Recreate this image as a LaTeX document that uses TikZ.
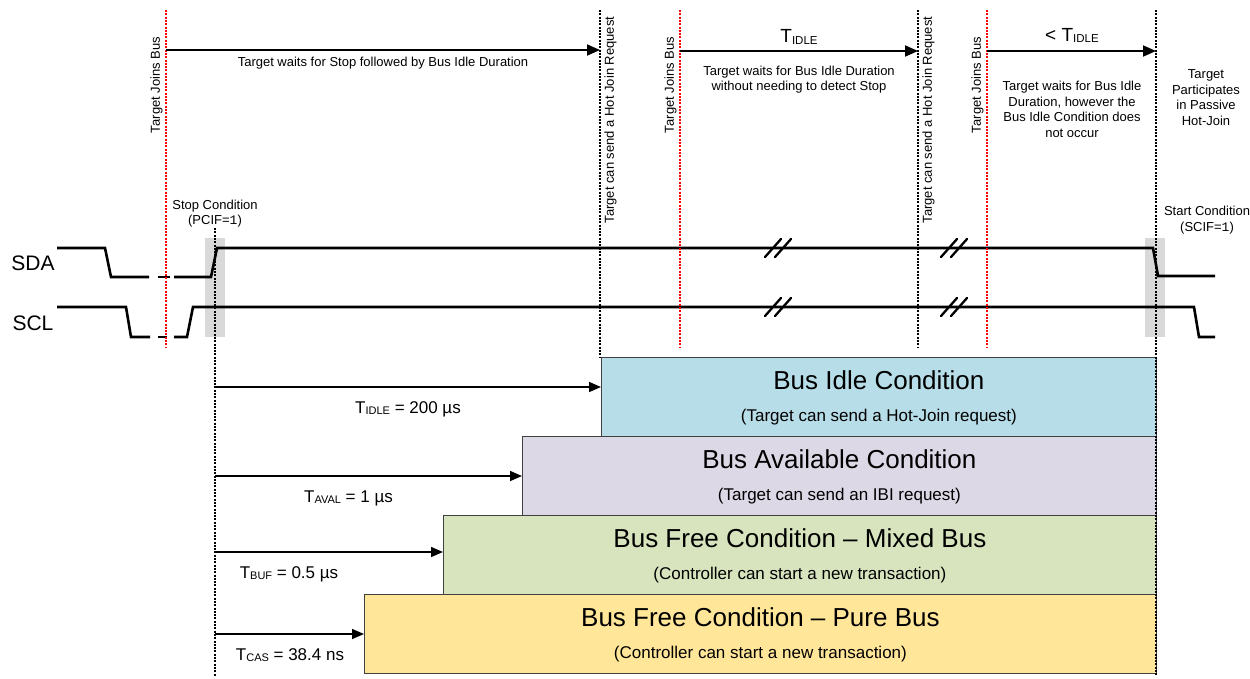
\documentclass[tikz,border=0pt]{standalone}
\usepackage{fontspec}
\setmainfont{Liberation Sans}
\newfontfamily\monofont{Liberation Mono}
\usetikzlibrary{arrows.meta}
\definecolor{idleblue}{HTML}{B7DEE8}
\definecolor{availlilac}{HTML}{DDD8E6}
\definecolor{mixedgreen}{HTML}{D7E4BD}
\definecolor{pureyellow}{HTML}{FFE699}
\definecolor{shadegray}{HTML}{D9D9D9}
\definecolor{boxedge}{HTML}{404040}
\newcommand\lowsub[2][11]{{\fontsize{#1}{#1}\selectfont\raisebox{-1.8pt}{#2}}}
\begin{document}
\begin{tikzpicture}[x=1pt,y=-1pt,
  sig/.style={line width=2.6pt},
  brk/.style={line width=2.3pt, line cap=round},
  redline/.style={red, line width=1.3pt, dash pattern=on 2pt off 1.3pt},
  blackline/.style={black, line width=1.1pt, dash pattern=on 2pt off 1.3pt},
  toparr/.style={line width=1.8pt, -{Triangle[length=13pt,width=11pt]}},
  botarr/.style={line width=1.5pt, -{Triangle[length=12pt,width=10pt]}},
  cbox/.style={draw=boxedge, line width=0.8pt, inner sep=0, anchor=north west, minimum height=79pt},
  shadebox/.style={fill=shadegray, inner sep=0, minimum width=20pt, minimum height=99pt},
  small/.style={font=\fontsize{13}{15.5}\selectfont, align=center, inner sep=0},
  vlabel/.style={font=\fontsize{13}{15}\selectfont, rotate=90, inner sep=0},
  title/.style={font=\fontsize{26}{26}\selectfont, inner sep=0, anchor=base},
  subt/.style={font=\fontsize{17}{17}\selectfont, inner sep=0, anchor=base},
  tlabel/.style={font=\fontsize{17}{17}\selectfont, inner sep=0, anchor=base},
  siglabel/.style={font=\fontsize{21}{21}\selectfont, inner sep=0, anchor=base}]
\useasboundingbox (0,0) rectangle (1250,678);

% condition boxes
\node[cbox, fill=idleblue, minimum width=555pt] (idle) at (601,357) {};
\node[cbox, fill=availlilac, minimum width=634pt] (avail) at (522,436) {};
\node[cbox, fill=mixedgreen, minimum width=713pt] (mixed) at (443,515) {};
\node[cbox, fill=pureyellow, minimum width=792pt] (pure) at (364,594) {};
\node[title] (idlet) at ([yshift=-32pt]idle.north) {Bus Idle Condition};
\node[subt] (idles) at ([yshift=-64pt]idle.north) {(Target can send a Hot-Join request)};
\node[title] (availt) at ([yshift=-32pt]avail.north) {Bus Available Condition};
\node[subt] (avails) at ([yshift=-64pt]avail.north) {(Target can send an IBI request)};
\node[title] (mixedt) at ([yshift=-32pt]mixed.north) {Bus Free Condition – Mixed Bus};
\node[subt] (mixeds) at ([yshift=-64pt]mixed.north) {(Controller can start a new transaction)};
\node[title] (puret) at ([yshift=-32pt]pure.north) {Bus Free Condition – Pure Bus};
\node[subt] (pures) at ([yshift=-64pt]pure.north) {(Controller can start a new transaction)};

% shaded condition windows
\node[shadebox] (stopshade) at (215,287.5) {};
\node[shadebox] (startshade) at (1155,287.5) {};

% signals
\node[siglabel] (sda) at (33,270) {SDA};
\node[siglabel] (scl) at (33,330) {SCL};
\coordinate (sdaA0) at (57,248); \coordinate (sdaA1) at (105,248);
\coordinate (sdaA2) at (111,277); \coordinate (sdaA3) at (149,277);
\coordinate (sdaB0) at (158,277); \coordinate (sdaB1) at (170,277);
\coordinate (sdaC0) at (174,277); \coordinate (sdaC1) at (211,277);
\coordinate (sdaC2) at (217,248); \coordinate (sdaC3) at (1153,248);
\coordinate (sdaC4) at (1158,276); \coordinate (sdaC5) at (1215,276);
\draw[sig] (sdaA0) -- (sdaA1) -- (sdaA2) -- (sdaA3);
\draw[sig] (sdaB0) -- (sdaB1);
\draw[sig] (sdaC0) -- (sdaC1) -- (sdaC2) -- (sdaC3) -- (sdaC4) -- (sdaC5);
\coordinate (sclA0) at (57,307); \coordinate (sclA1) at (126,307);
\coordinate (sclA2) at (131,337); \coordinate (sclA3) at (150,337);
\coordinate (sclB0) at (158,337); \coordinate (sclB1) at (167,337);
\coordinate (sclC0) at (174,337); \coordinate (sclC1) at (187,337);
\coordinate (sclC2) at (193,307); \coordinate (sclC3) at (1194,307);
\coordinate (sclC4) at (1199,337); \coordinate (sclC5) at (1215,337);
\draw[sig] (sclA0) -- (sclA1) -- (sclA2) -- (sclA3);
\draw[sig] (sclB0) -- (sclB1);
\draw[sig] (sclC0) -- (sclC1) -- (sclC2) -- (sclC3) -- (sclC4) -- (sclC5);

% break marks
\foreach \bx in {776,952}{
  \foreach \by in {248,307}{
    \draw[brk] (\bx-11,\by+9) -- (\bx+5,\by-9);
    \draw[brk] (\bx-1,\by+9) -- (\bx+15,\by-9);
  }
}

% vertical markers
\coordinate (jb1t) at (166,10);  \coordinate (jb1b) at (166,347);
\coordinate (hj1t) at (600,10);  \coordinate (hj1b) at (600,357);
\coordinate (jb2t) at (680,10);  \coordinate (jb2b) at (680,347);
\coordinate (hj2t) at (918,10);  \coordinate (hj2b) at (918,347);
\coordinate (jb3t) at (987,10);  \coordinate (jb3b) at (987,347);
\coordinate (hj3t) at (1156,10); \coordinate (hj3b) at (1156,676);
\coordinate (stopt) at (215,228); \coordinate (stopb) at (215,676);
\draw[redline] (jb1t) -- (jb1b);
\draw[redline] (jb2t) -- (jb2b);
\draw[redline] (jb3t) -- (jb3b);
\draw[blackline] (hj1t) -- (hj1b);
\draw[blackline] (hj2t) -- (hj2b);
\draw[blackline] (hj3t) -- (hj3b);
\draw[blackline] (stopt) -- (stopb);

% vertical labels
\node[vlabel] (jbl1) at (156.5,85) {Target Joins Bus};
\node[vlabel] (jbl2) at (670.5,85) {Target Joins Bus};
\node[vlabel] (jbl3) at (977.5,85) {Target Joins Bus};
\node[vlabel] (hjl1) at (610.5,120) {Target can send a Hot Join Request};
\node[vlabel] (hjl2) at (928.5,120) {Target can send a Hot Join Request};

% top arrows and texts
\coordinate (ta1s) at (166,50); \coordinate (ta1e) at (600,50);
\coordinate (ta2s) at (680,51); \coordinate (ta2e) at (918,51);
\coordinate (ta3s) at (987,51); \coordinate (ta3e) at (1156,51);
\draw[toparr] (ta1s) -- (ta1e);
\draw[toparr] (ta2s) -- (ta2e);
\draw[toparr] (ta3s) -- (ta3e);
\node[small] (wait1) at (383,63) {Target waits for Stop followed by Bus Idle Duration};
\node[anchor=base, inner sep=0, font=\fontsize{19}{19}\selectfont] (tidletop) at (799,42.5) {T\lowsub[11.5]{IDLE}};
\node[small] (wait2) at (799,79.5) {Target waits for Bus Idle Duration\\without needing to detect Stop};
\node[anchor=base, inner sep=0, font=\fontsize{19}{19}\selectfont] (ltidle) at (1072,41) {< T\lowsub[11.5]{IDLE}};
\node[small] (wait3) at (1072,109.5) {Target waits for Bus Idle\\Duration, however the\\Bus Idle Condition does\\not occur};
\node[small] (passive) at (1206,97.5) {Target\\Participates\\in Passive\\Hot-Join};
\node[small] (stopc) at (215,213.5) {Stop Condition\\(PCIF={\monofont 1})};
\node[small] (startc) at (1207,220) {Start Condition\\(SCIF={\monofont 1})};

% timing arrows
\coordinate (ba1s) at (215,387); \coordinate (ba1e) at (601,387);
\coordinate (ba2s) at (215,476); \coordinate (ba2e) at (522,476);
\coordinate (ba3s) at (215,552); \coordinate (ba3e) at (443,552);
\coordinate (ba4s) at (215,634); \coordinate (ba4e) at (364,634);
\draw[botarr] (ba1s) -- (ba1e);
\draw[botarr] (ba2s) -- (ba2e);
\draw[botarr] (ba3s) -- (ba3e);
\draw[botarr] (ba4s) -- (ba4e);
\node[tlabel] (tidle) at (408,413) {T\lowsub{IDLE} = 200 µs};
\node[tlabel] (taval) at (348.5,502) {T\lowsub{AVAL} = 1 µs};
\node[tlabel] (tbuf) at (289,578) {T\lowsub{BUF} = 0.5 µs};
\node[tlabel] (tcas) at (290,660) {T\lowsub{CAS} = 38.4 ns};
\end{tikzpicture}
\end{document}
